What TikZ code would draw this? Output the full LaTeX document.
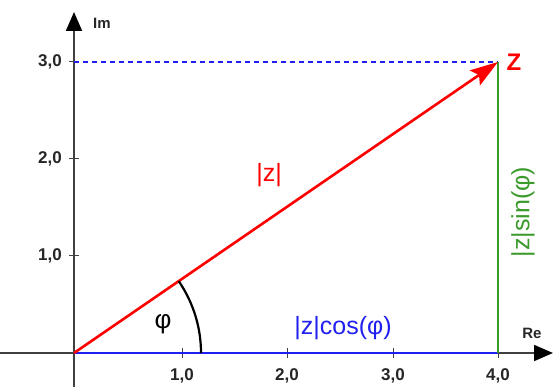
\documentclass[tikz,border=0pt]{standalone}
\usepackage{fontspec}
\setmainfont{Liberation Sans}
\usetikzlibrary{arrows.meta}
\definecolor{axisgray}{HTML}{404040}
\definecolor{zgreen}{HTML}{3A9A2A}
\definecolor{zblue}{HTML}{2020F0}
\tikzset{
  axisline/.style={axisgray, line width=1.8pt, -{Triangle[length=19pt,width=16pt,fill=black,color=black]}},
  tick/.style={axisgray, line width=1pt},
  ticklabel/.style={font=\fontsize{17}{19}\selectfont\bfseries, text=black!85, inner sep=0pt},
  axlabel/.style={font=\fontsize{15}{17}\selectfont\bfseries, text=black!85, inner sep=0pt},
}
\begin{document}
\begin{tikzpicture}[x=1pt,y=-1pt]
\useasboundingbox (0,0) rectangle (555,387);
\coordinate (O) at (74,353);
\coordinate (Z) at (498,62);
\coordinate (Xend) at (553,353);
\coordinate (Yend) at (74,12);
\coordinate (Ztop) at (74,62);
\coordinate (Zfoot) at (498,353);
% axes
\draw[axisline] (O) -- (Xend);
\draw[axisline] (O) -- (Yend);
\draw[axisgray, line width=1.8pt] (O) -- ++(-74,0);
\draw[axisgray, line width=1.8pt] (O) -- ++(0,34);
% ticks
\foreach \x/\l in {182/1,287/2,393/3,498/4}{
  \draw[tick] (\x,348) -- (\x,358);
  \node[ticklabel] (tx\l) at (\x,376) {\l,0};
}
\foreach \y/\l in {256/1,159/2,62/3}{
  \draw[tick] (69,\y) -- (79,\y);
  \node[ticklabel, anchor=east] (ty\l) at (62,\y) {\l,0};
}
\node[axlabel] (im) at (102,23) {Im};
\node[axlabel] (re) at (532,333) {Re};
% blue/green
\draw[zblue, line width=1.2pt] (O) -- (Zfoot);
\draw[zblue, line width=1.1pt, dash pattern=on 5pt off 4pt] (Ztop) -- (Z);
\draw[zgreen, line width=1.3pt] (Z) -- (Zfoot);
% red vector
\draw[red, line width=2.6pt, -{Stealth[length=28pt,width=18pt,inset=5pt]}] (O) -- (Z);
% arc
\draw[black, line width=2.2pt] (O) ++(127,0) arc[start angle=0, end angle=-34.46, radius=127];
% labels
\node[text=red, font=\fontsize{24}{28}\selectfont\bfseries, inner sep=0pt] (zlab) at (514,62) {Z};
\node[text=red, font=\fontsize{25}{28}\selectfont, inner sep=0pt] (abs) at (269,175) {|z|};
\node[text=zblue, font=\fontsize{25}{28}\selectfont, inner sep=0pt] (cos) at (343,328) {|z|cos(φ)};
\node[text=zgreen, font=\fontsize{25}{28}\selectfont, inner sep=0pt, rotate=90] (sin) at (523,212) {|z|sin(φ)};
\node[text=black, font=\fontsize{26}{28}\selectfont, inner sep=0pt] (phi) at (163,324) {φ};
\end{tikzpicture}
\end{document}
